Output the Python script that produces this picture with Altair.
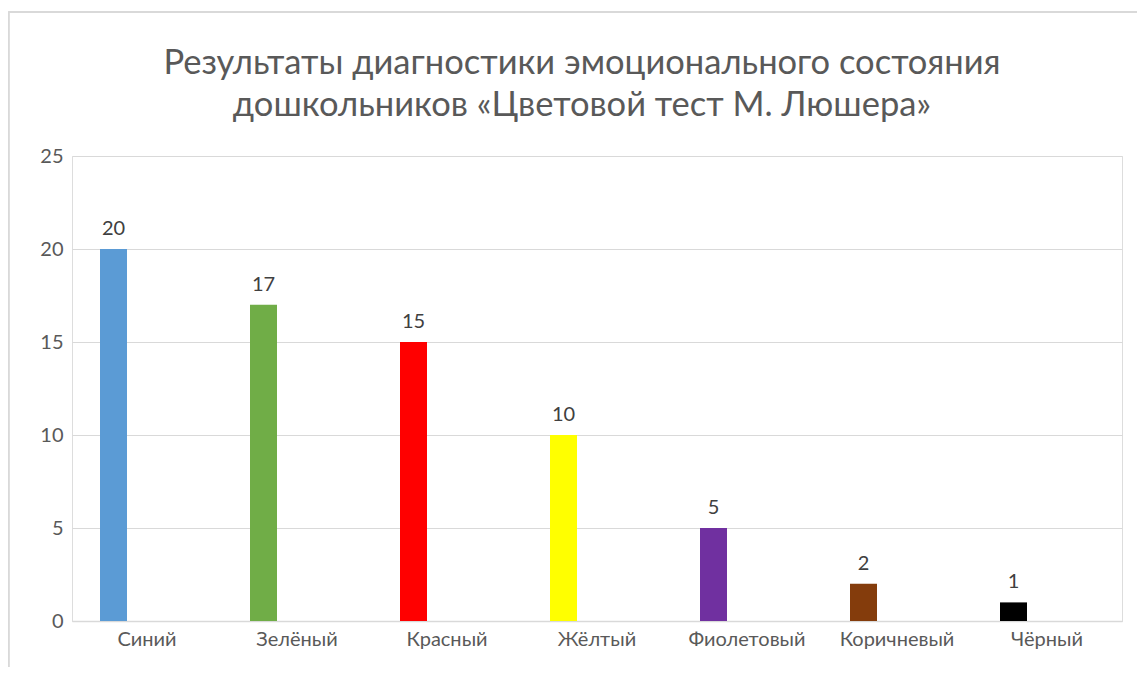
import altair as alt
import pandas as pd

categories = ["Синий", "Зелёный", "Красный", "Жёлтый", "Фиолетовый", "Коричневый", "Чёрный"]
values = [20, 17, 15, 10, 5, 2, 1]
colors = ["#5B9BD5", "#70AD47", "#FF0000", "#FFFF00", "#7030A0", "#843C0C", "#000000"]
title_lines = ["Результаты диагностики эмоционального состояния",
               "дошкольников «Цветовой тест М. Люшера»"]

df = pd.DataFrame({"cat": categories, "val": values, "col": colors})

FONT = "Lato"
x = alt.X("cat:N", sort=categories, title=None,
          scale=alt.Scale(paddingInner=0, paddingOuter=0),
          axis=alt.Axis(labelAngle=0, ticks=False, domainColor="#D9D9D9", domainWidth=1.5,
                        labelColor="#595959", labelFontSize=20, labelFont=FONT, labelPadding=8))
y = alt.Y("val:Q", title=None,
          scale=alt.Scale(domain=[0, 25], nice=False),
          axis=alt.Axis(values=[0, 5, 10, 15, 20, 25], domain=False, ticks=False,
                        gridColor="#D9D9D9", labelColor="#595959", labelFontSize=20,
                        labelFont=FONT, labelPadding=9))

bars = alt.Chart(df).mark_bar(width=27, xOffset=-33.5).encode(
    x=x, y=y, color=alt.Color("col:N", scale=None)
)
labels = alt.Chart(df).mark_text(xOffset=-33.5, dy=-14, baseline="alphabetic", font=FONT,
                                 fontSize=20, color="#404040").encode(
    x=alt.X("cat:N", sort=categories), y="val:Q", text="val:Q"
)
border = alt.Chart(df).mark_rule(color="#D9D9D9", strokeWidth=1.5).encode(
    x=alt.value(-63.5), x2=alt.value(-63.5), y=alt.value(-144), y2=alt.value(530)
) + alt.Chart(df).mark_rule(color="#D9D9D9", strokeWidth=1.5).encode(
    x=alt.value(-63.5), x2=alt.value(1100), y=alt.value(-144), y2=alt.value(-144)
)

chart = alt.layer(border, bars, labels).properties(
    width=1050, height=465,
    padding={"left": 64, "top": 148, "right": 15, "bottom": 46},
    autosize=alt.AutoSizeParams(type="none"),
    title=alt.TitleParams(title_lines, anchor="middle", frame="group", offset=-112,
                          fontSize=34.5, font=FONT, fontWeight="normal", color="#595959",
                          lineHeight=42, dx=-15),
).configure_view(stroke="transparent", strokeWidth=0).configure(background="white")

chart.save("out.html", embed_options={"renderer": "svg", "actions": False})
